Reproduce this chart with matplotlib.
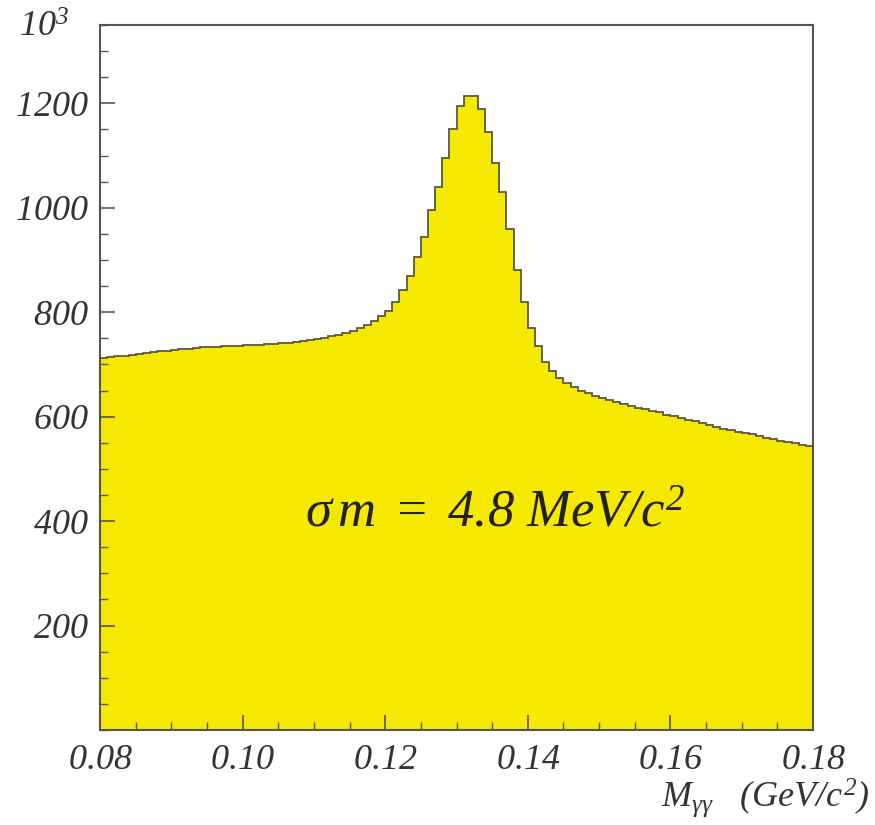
import numpy as np
import matplotlib
matplotlib.use("Agg")
import matplotlib.pyplot as plt
from matplotlib.ticker import MultipleLocator, FixedLocator

# ---- data -------------------------------------------------------------
bin_start = 0.080
bin_width = 0.001
counts = [
    712, 714, 716, 717, 719, 720, 722, 723, 725, 726,
    728, 729, 730, 732, 733, 734, 734, 735, 735, 736,
    737, 737, 738, 739, 740, 741, 742, 743, 745, 747,
    749, 751, 754, 757, 761, 765, 770, 776, 783, 792,
    802, 820, 843, 870, 905, 945, 995, 1040, 1095, 1150,
    1195, 1215, 1215, 1190, 1145, 1085, 1030, 960, 880, 820,
    770, 735, 705, 688, 675, 665, 657, 650, 645, 640,
    636, 632, 628, 625, 621, 617, 614, 611, 608, 604,
    601, 598, 594, 591, 588, 584, 580, 577, 574, 571,
    568, 566, 563, 560, 557, 554, 551, 549, 546, 543,
]
x_ticks = [0.08, 0.10, 0.12, 0.14, 0.16, 0.18]
x_tick_labels = ["0.08", "0.10", "0.12", "0.14", "0.16", "0.18"]
y_ticks = [200, 400, 600, 800, 1000, 1200]
y_tick_labels = ["200", "400", "600", "800", "1000", "1200"]
annotation = r"$\mathrm{\sigma}\,m\;=\;\mathit{4.8}\ MeV/c^{\mathit{2}}$"
x_label = r"$M_{\mathrm{\gamma\gamma}}$   $(GeV/c^{\mathit{2}})$"
y_scale_label = r"$\mathit{10}^{\mathit{3}}$"

# ---- style ------------------------------------------------------------
plt.rcParams["font.family"] = ["Liberation Serif", "DejaVu Serif"]
plt.rcParams["font.style"] = "italic"
plt.rcParams["mathtext.fontset"] = "custom"
plt.rcParams["mathtext.rm"] = "Liberation Serif"
plt.rcParams["mathtext.it"] = "Liberation Serif:italic"
plt.rcParams["mathtext.bf"] = "Liberation Serif:bold"
plt.rcParams["mathtext.default"] = "it"

fill_color = "#F5E900"
line_color = "#5a5a40"
axis_color = "#555555"
text_color = "#333333"

fig = plt.figure(figsize=(8.75, 8.25), dpi=100)
ax = fig.add_axes([100 / 875, 95 / 825, 713 / 875, 705 / 825])

edges = bin_start + bin_width * np.arange(len(counts) + 1)
ax.stairs(counts, edges, fill=True, color=fill_color, baseline=0, linewidth=0)
ax.stairs(counts, edges, baseline=None, color=line_color, linewidth=1.3)

ax.set_xlim(0.08, 0.18)
ax.set_ylim(0, 1350)

ax.xaxis.set_major_locator(FixedLocator(x_ticks))
ax.xaxis.set_minor_locator(MultipleLocator(0.005))
ax.yaxis.set_major_locator(FixedLocator(y_ticks))
ax.yaxis.set_minor_locator(MultipleLocator(50))
ax.set_xticklabels([r"$\mathit{%s}$" % t for t in x_tick_labels])
ax.set_yticklabels([r"$\mathit{%s}$" % t for t in y_tick_labels])

ax.tick_params(axis="both", which="both", direction="in", colors=axis_color,
               labelcolor=text_color, labelsize=26, top=False, right=False)
ax.tick_params(axis="both", which="major", length=11, width=1.2)
ax.tick_params(axis="both", which="minor", length=6, width=1.0)
ax.tick_params(axis="x", which="major", pad=10)
ax.tick_params(axis="y", which="major", pad=8)

for s in ax.spines.values():
    s.set_color(axis_color)
    s.set_linewidth(1.5)

ax.text(0.288, 0.288, annotation, transform=ax.transAxes, fontsize=38,
        color="#222222", ha="left", va="baseline")

fig.text(0.994, 0.022, x_label, fontsize=26, color=text_color,
         ha="right", va="baseline")
fig.text(0.022, 0.955, y_scale_label, fontsize=26, color=text_color,
         ha="left", va="baseline")

fig.savefig("out.png", dpi=100, facecolor="white")
